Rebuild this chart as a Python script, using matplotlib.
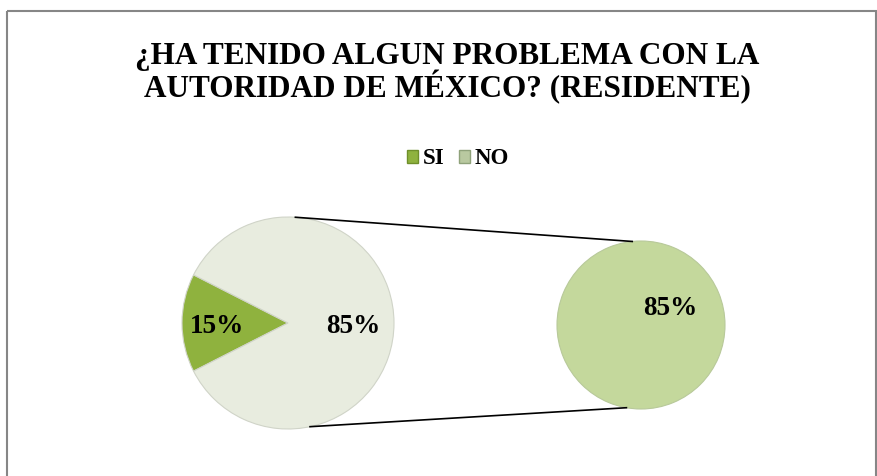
import matplotlib.pyplot as plt
import numpy as np
from matplotlib.patches import Patch, Rectangle

categorias = ['SI', 'NO']
valores = [15, 85]
valor_segundo = [85]
colores = ['#8fb23e', '#e8ecdf']
color_segundo = '#c4d89c'
titulo = ['¿HA TENIDO ALGUN PROBLEMA CON LA', 'AUTORIDAD DE MÉXICO? (RESIDENTE)']

plt.rcParams['font.family'] = ['Liberation Serif', 'DejaVu Serif']

fig = plt.figure(figsize=(8.78, 4.76), dpi=100)
ax = fig.add_axes([0, 0, 1, 1])


def ejes():
    ax.set_xlim(0, 878)
    ax.set_ylim(476, 0)
    ax.axis('off')


# pastel principal (SI centrado a la izquierda)
c1 = (288, 323)
r1 = 106
inicio = 180 - valores[0] / 100 * 360 / 2
ax.pie(valores, colors=colores, startangle=inicio, counterclock=True,
       center=c1, radius=r1, frame=True,
       wedgeprops=dict(edgecolor='#d0d4c8', linewidth=0.8))

# pastel secundario
c2 = (641, 325)
r2 = 84
ax.pie(valor_segundo, colors=[color_segundo], center=c2, radius=r2, frame=True,
       wedgeprops=dict(edgecolor='#b8c99a', linewidth=0.8))
ejes()

# marco del grafico
ax.add_patch(Rectangle((7.5, 10.5), 869, 480, fill=False, edgecolor='#868686',
                       linewidth=1.5, clip_on=False))

# lineas de conexion
a1, b1 = np.deg2rad(86), np.deg2rad(-78)
a2, b2 = np.deg2rad(96), np.deg2rad(-100)
ax.plot([c1[0] + r1 * np.cos(a1), c2[0] + r2 * np.cos(a2)],
        [c1[1] - r1 * np.sin(a1), c2[1] - r2 * np.sin(a2)], color='black', lw=1.2)
ax.plot([c1[0] + r1 * np.cos(b1), c2[0] + r2 * np.cos(b2)],
        [c1[1] - r1 * np.sin(b1), c2[1] - r2 * np.sin(b2)], color='black', lw=1.2)

# etiquetas
ax.text(217, 327, f'{valores[0]}%', ha='center', va='center', fontsize=19.5, fontweight='bold')
ax.text(353, 327, f'{valores[1]}%', ha='center', va='center', fontsize=19.5, fontweight='bold')
ax.text(670, 309, f'{valor_segundo[0]}%', ha='center', va='center', fontsize=19.5, fontweight='bold')

# titulo
ax.text(447, 64, titulo[0], ha='center', va='baseline', fontsize=22.5, fontweight='bold')
ax.text(447, 97, titulo[1], ha='center', va='baseline', fontsize=22.5, fontweight='bold')

# leyenda
handles = [Patch(facecolor=colores[0], edgecolor='#6f8f2a'),
           Patch(facecolor='#b9c9a0', edgecolor='#8fa27a')]
fig.legend(handles, categorias, loc='center', bbox_to_anchor=(458 / 878, 1 - 159 / 476), ncol=2,
           frameon=False, handlelength=0.5, handleheight=0.5, handletextpad=0.2,
           columnspacing=0.6, prop=dict(family='Liberation Serif', weight='bold', size=16.5))

fig.savefig('out.png', dpi=100)
